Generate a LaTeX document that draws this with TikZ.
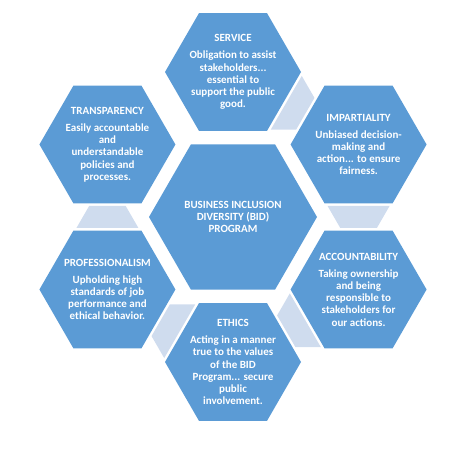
\documentclass[tikz,border=0pt]{standalone}
\usepackage{fontspec}
\setmainfont{Carlito}
\usetikzlibrary{calc,shapes.geometric}
\definecolor{hexblue}{RGB}{91,155,213}
\definecolor{linkblue}{RGB}{207,220,238}
\tikzset{
  hexbig/.style={regular polygon, regular polygon sides=6, minimum size=168pt, inner sep=0pt, fill=hexblue, draw=none},
  hexsmall/.style={regular polygon, regular polygon sides=6, minimum size=136pt, inner sep=0pt, fill=hexblue, draw=none},
  hextext/.style={text=white, align=center, inner sep=0pt, font=\fontsize{11}{12.2}\selectfont\bfseries},
  centertext/.style={text=white, align=center, inner sep=0pt, font=\fontsize{11}{12.2}\selectfont\bfseries},
  linkfill/.style={fill=linkblue, draw=none}
}
\newcommand{\linkpiece}[2]{%
  \fill[linkfill] ($(#1)+(#2:61.5)+(#2+90:31)$) -- ($(#1)+(#2:61.5)+(#2-90:31)$)
    -- ($(#1)+(#2:83.5)+(#2-90:18.3)$) -- ($(#1)+(#2:83.5)+(#2+90:18.3)$) -- cycle;}
\begin{document}
\begin{tikzpicture}[x=1pt,y=1pt]
\useasboundingbox (0,0) rectangle (474,450);
\coordinate (C) at (233,233);
\coordinate (serv) at ($(C)+(90:145)$);
\coordinate (impa) at ($(C)+(30:145)$);
\coordinate (acco) at ($(C)+(-30:145)$);
\coordinate (ethi) at ($(C)+(-90:145)$);
\coordinate (prof) at ($(C)+(-150:145)$);
\coordinate (tran) at ($(C)+(150:145)$);
% connectors
\linkpiece{serv}{-30}
\linkpiece{impa}{-90}
\linkpiece{acco}{-150}
\linkpiece{ethi}{150}
\linkpiece{prof}{90}
% hexagons
\node[hexbig] (hC) at (C) {};
\node[hexsmall] (hserv) at (serv) {};
\node[hexsmall] (himpa) at (impa) {};
\node[hexsmall] (hacco) at (acco) {};
\node[hexsmall] (hethi) at (ethi) {};
\node[hexsmall] (hprof) at (prof) {};
\node[hexsmall] (htran) at (tran) {};
% texts
\node[centertext] (tC) at (C) {BUSINESS INCLUSION\\DIVERSITY (BID)\\PROGRAM};
\node[hextext] (tserv) at (serv) {SERVICE\\[5pt]Obligation to assist\\stakeholders...\\essential to\\support the public\\good.};
\node[hextext] (timpa) at (impa) {IMPARTIALITY\\[5pt]Unbiased decision-\\making and\\action... to ensure\\fairness.};
\node[hextext] (tacco) at (acco) {ACCOUNTABILITY\\[5pt]Taking ownership\\and being\\responsible to\\stakeholders for\\our actions.};
\node[hextext] (tethi) at (ethi) {ETHICS\\[5pt]Acting in a manner\\true to the values\\of the BID\\Program... secure\\public\\involvement.};
\node[hextext] (tprof) at (prof) {PROFESSIONALISM\\[5pt]Upholding high\\standards of job\\performance and\\ethical behavior.};
\node[hextext] (ttran) at (tran) {TRANSPARENCY\\[5pt]Easily accountable\\and\\understandable\\policies and\\processes.};
\end{tikzpicture}
\end{document}
